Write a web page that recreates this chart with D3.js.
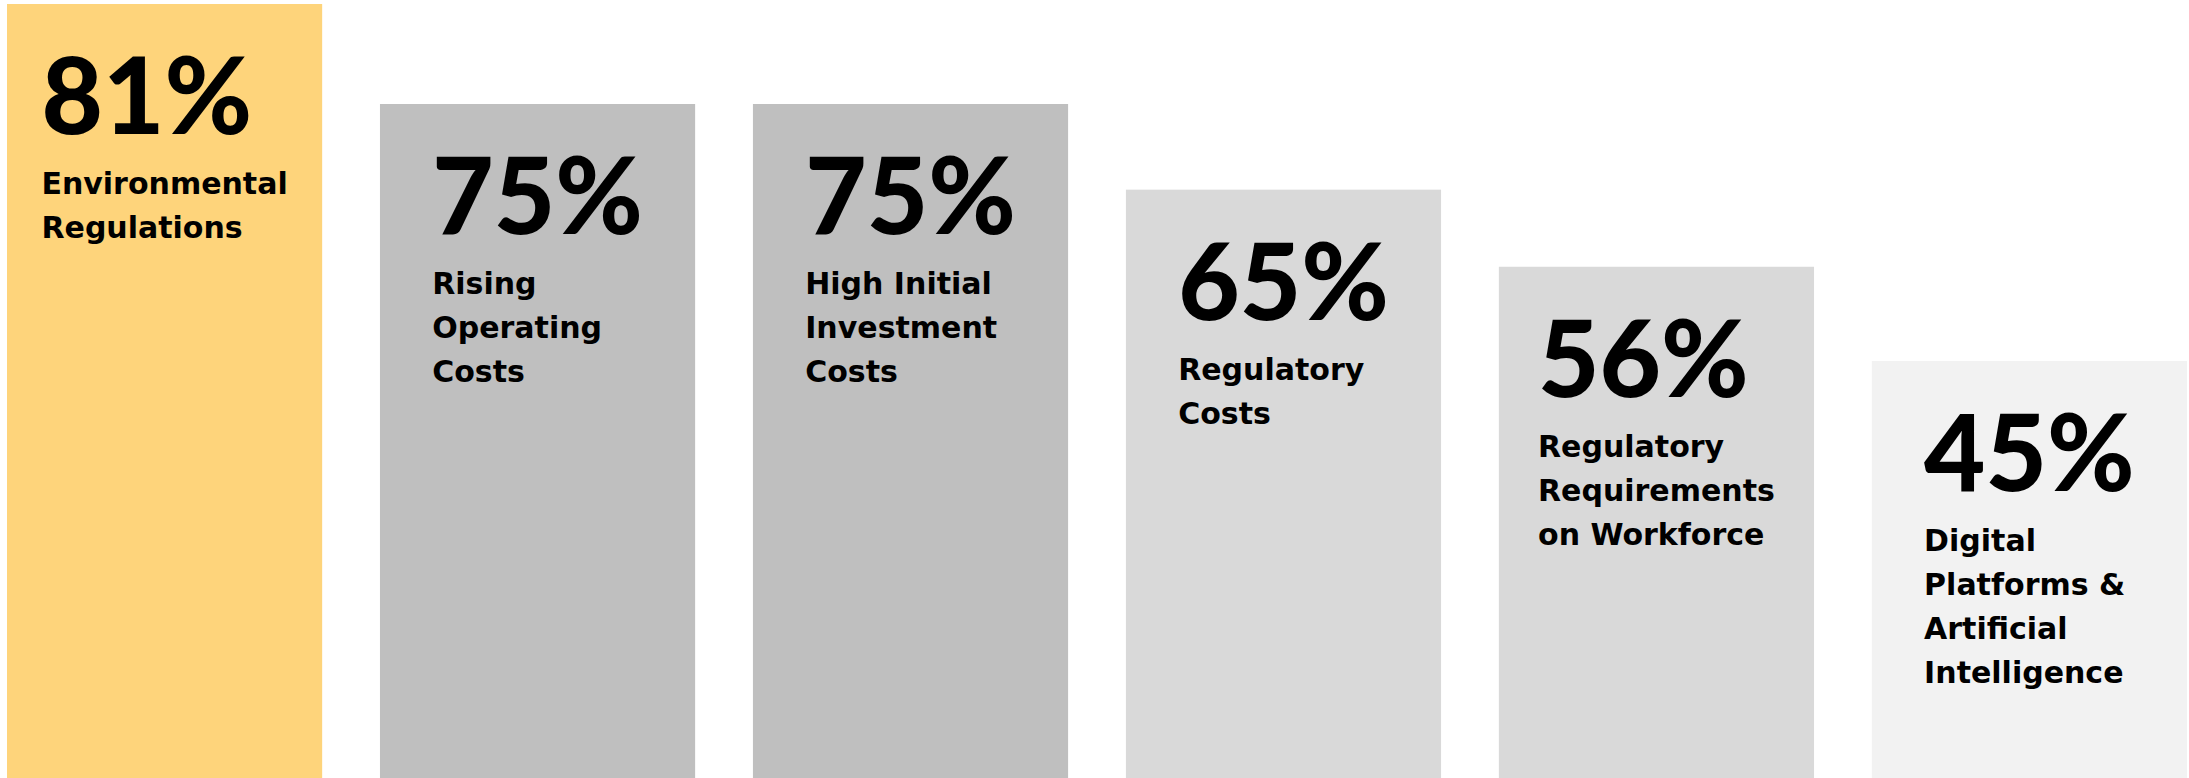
<!DOCTYPE html>
<html>
<head>
<meta charset="utf-8">
<script src="https://cdn.jsdelivr.net/npm/d3@7"></script>
<style>
  html, body { margin: 0; padding: 0; background: #ffffff; }
  svg { display: block; }
</style>
</head>
<body>
<svg id="chart"></svg>
<script>
// Share of respondents citing each challenge
const categories = [
  "Environmental Regulations",
  "Rising Operating Costs",
  "High Initial Investment Costs",
  "Regulatory Costs",
  "Regulatory Requirements on Workforce",
  "Digital Platforms & Artificial Intelligence"
];
const values = [81, 75, 75, 65, 56, 45];
const labelLines = [
  ["Environmental", "Regulations"],
  ["Rising", "Operating", "Costs"],
  ["High Initial", "Investment", "Costs"],
  ["Regulatory", "Costs"],
  ["Regulatory", "Requirements", "on Workforce"],
  ["Digital", "Platforms &", "Artificial", "Intelligence"]
];
const palette = ["#FED47B", "#BFBFBF", "#BFBFBF", "#D9D9D9", "#D9D9D9", "#F2F2F2"];

const width = 2189, height = 778;
const svg = d3.select("#chart").attr("width", width).attr("height", height);

const x = d3.scaleBand()
  .domain(categories)
  .range([7, 2187])
  .paddingInner(0.155)
  .paddingOuter(0);

// Highlighted leader gets extra headroom above the rest of the scale
const y = d3.scaleLinear()
  .domain([0, 75, 81])
  .range([746.5, 104, 4]);

const color = d3.scaleOrdinal().domain(categories).range(palette);

const rows = categories.map((c, i) => ({ cat: c, value: values[i], lines: labelLines[i] }));

const g = svg.selectAll("g.bar").data(rows).join("g").attr("class", "bar");

// Columns run from their value down to the bottom edge of the chart
g.append("rect")
  .attr("x", d => x(d.cat))
  .attr("y", d => y(d.value))
  .attr("width", x.bandwidth())
  .attr("height", d => height - y(d.value))
  .attr("fill", d => color(d.cat));

const txt = g.append("g").attr("class", "txt");

txt.append("text")
  .attr("class", "pct")
  .attr("y", d => y(d.value) + 130)
  .attr("font-family", "'Lato', 'DejaVu Sans', sans-serif")
  .attr("font-weight", 900)
  .attr("font-size", 106)
  .attr("fill", "#000")
  .text(d => d.value + "%");

txt.each(function(d) {
  const t = d3.select(this).append("text")
    .attr("class", "lbl")
    .attr("font-family", "'DejaVu Sans', sans-serif")
    .attr("font-weight", 700)
    .attr("font-size", 30)
    .attr("fill", "#000");
  t.selectAll("tspan").data(d.lines).join("tspan")
    .attr("x", 0)
    .attr("y", (l, j) => y(d.value) + 190 + j * 44)
    .text(l => l);
});

// Center each text block within its column
txt.each(function(d) {
  const bb = this.getBBox();
  const bx = x(d.cat) + (x.bandwidth() - bb.width) / 2 - bb.x;
  d3.select(this).attr("transform", `translate(${bx},0)`);
});
</script>
</body>
</html>
